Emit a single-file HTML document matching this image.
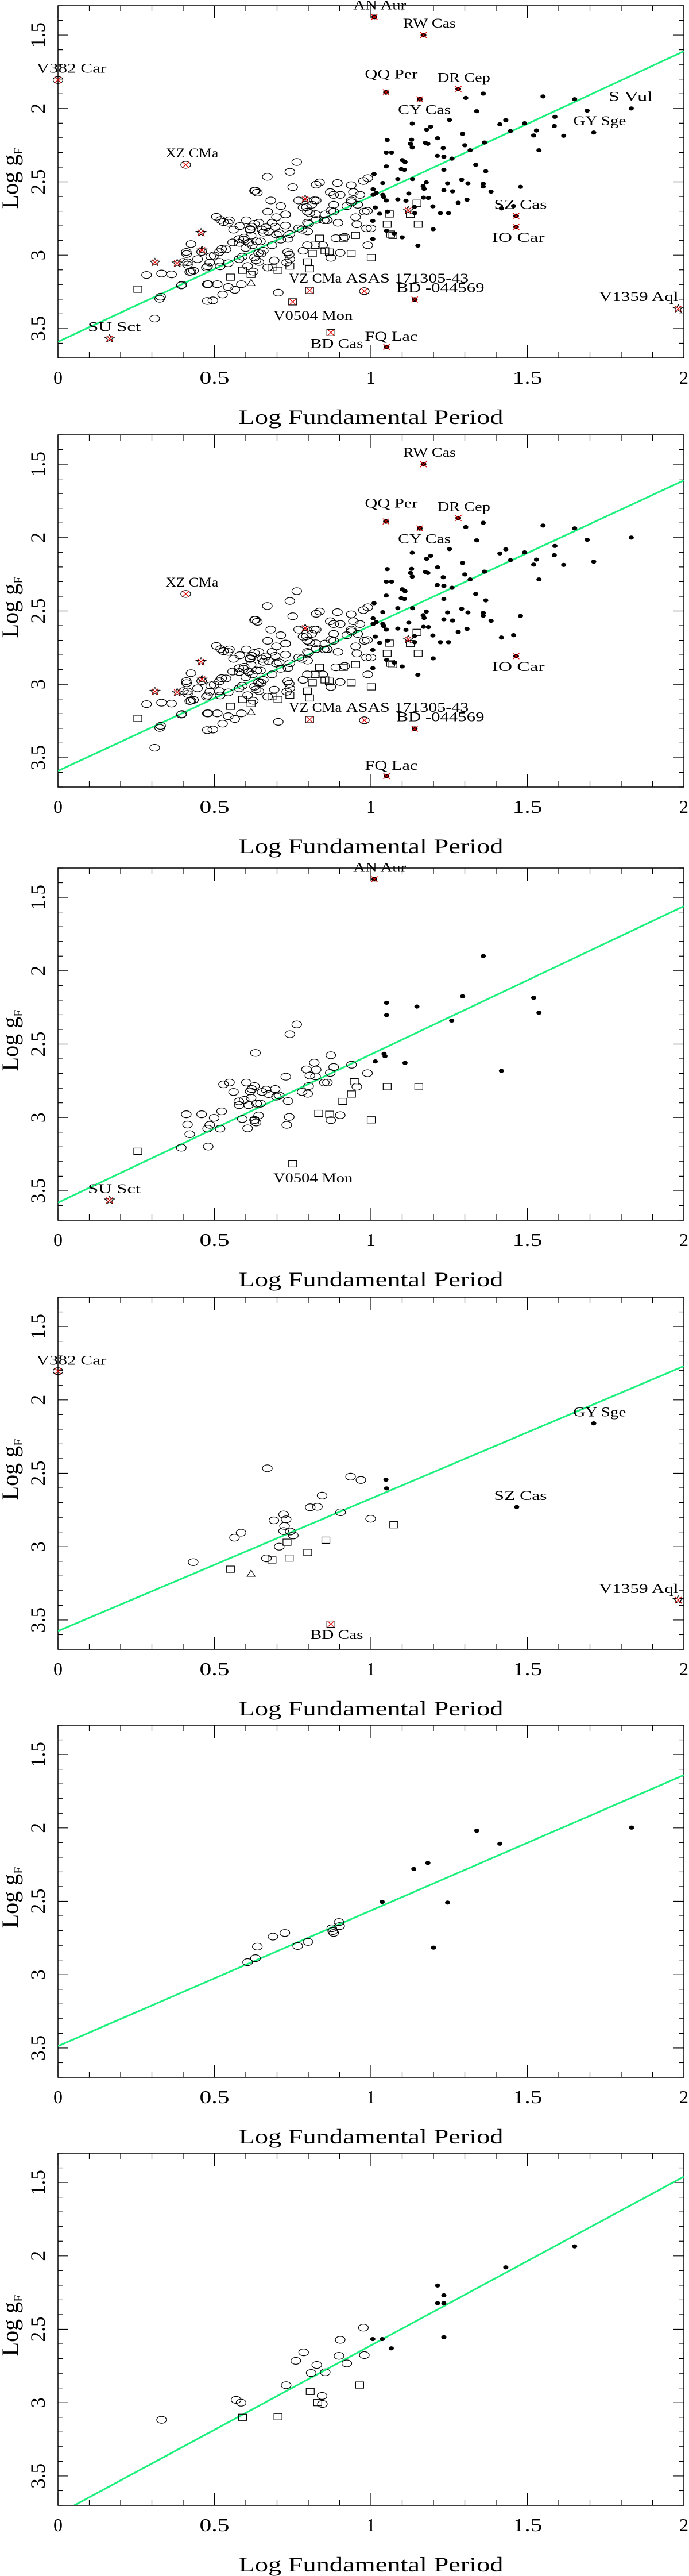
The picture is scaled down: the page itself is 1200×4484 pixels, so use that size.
<!DOCTYPE html>
<html><head><meta charset="utf-8">
<style>
html,body{margin:0;padding:0;background:#fff;}
svg{display:block;}
text{font-family:"Liberation Serif",serif;fill:#000;}
</style></head>
<body>
<svg id="chart" width="1200" height="4484" viewBox="0 0 1200 4484" xmlns="http://www.w3.org/2000/svg"></svg>
<script>
// ---------- DATA ----------
const xTickLabels = ["0","0.5","1","1.5","2"];
const yTickLabels = ["1.5","2","2.5","3","3.5"];
const xTickValues = [0,0.5,1,1.5,2];
const yTickValues = [1.5,2,2.5,3,3.5];

// Panel 1
const p1OpenX = [0.763,0.741,0.669,0.750,0.628,0.637,0.680,0.825,0.836,0.893,0.937,0.976,0.990,0.870,0.902,0.944,0.506,0.520,0.544,0.581,0.614,0.656,0.698,0.727,0.783,0.797,0.811,0.860,0.895,0.951,0.979,0.986,0.916,1.000,0.990,0.425,0.411,0.401,0.414,0.425,0.433,0.283,0.331,0.363,0.396,0.477,0.509,0.477,0.495,0.526,0.544,0.565,0.586,0.624,0.642,0.670,0.704,0.309,0.325,0.328,0.488,0.516,0.537,0.558,0.593,0.621,0.656,0.684,0.712,0.741,0.769,0.797,0.825,0.853,0.881,0.923,0.600,0.649,0.691,0.734,0.783,0.846,0.888,0.516,0.474,0.446,0.684,0.642,0.579,0.544,0.741,0.797,0.825,0.769,0.712,0.670,0.727,0.881,0.937,0.965,0.958,
0.410,0.414,0.421,0.459,0.478,0.480,0.485,0.499,0.518,0.523,0.394,0.529,0.548,0.561,0.579,0.578,0.589,0.595,0.602,0.609,0.606,0.614,0.617,0.619,0.628,0.628,0.633,0.635,0.641,0.647,0.652,0.665,0.673,0.694,0.698,0.707,0.728,0.735,0.739,0.731,0.631,0.780,0.794,0.798,0.801,0.805,0.819,0.823,0.851,0.861,0.872,0.881,0.872,0.902,0.938,0.955,0.989];
const p1OpenY = [2.365,2.432,2.466,2.536,2.561,2.574,2.627,2.519,2.504,2.508,2.523,2.494,2.475,2.570,2.589,2.570,2.738,2.760,2.779,2.802,2.827,2.846,2.741,2.722,2.675,2.703,2.656,2.760,2.779,2.741,2.703,2.817,2.875,2.817,2.932,2.924,2.992,3.046,3.065,3.112,3.106,3.135,3.125,3.131,3.202,3.198,3.198,3.312,3.308,3.268,3.217,3.236,3.198,3.112,3.046,3.084,3.255,3.432,3.297,3.283,3.008,2.979,2.960,2.913,2.894,2.932,2.970,2.932,2.894,2.856,2.817,2.779,2.760,2.722,2.703,2.665,2.951,2.989,3.036,2.979,2.970,2.932,2.884,3.046,3.084,3.027,2.779,2.779,3.027,3.055,3.027,2.932,2.627,2.627,2.665,2.703,2.798,2.589,2.627,2.589,2.656,
2.978,3.048,3.114,2.978,3.076,3.198,3.050,3.002,3.076,2.958,3.206,2.774,2.762,2.826,2.916,2.890,3.010,2.880,2.762,2.916,3.074,2.822,2.866,2.806,2.786,3.016,3.034,2.906,2.986,2.906,2.826,2.810,2.840,2.806,2.858,2.850,2.722,2.888,2.996,3.050,2.560,2.826,2.672,2.838,2.786,2.714,2.626,2.720,2.762,2.762,2.696,2.656,3.018,2.984,2.640,2.790,2.698];
const p1FilledX = [1.359,1.303,1.338,1.550,1.651,1.832,1.251,1.132,1.412,1.431,1.491,1.446,1.191,1.178,1.588,1.586,1.529,1.520,1.293,1.213,1.052,1.130,1.126,1.132,1.174,1.182,1.300,1.363,1.231,1.616,1.691,1.712,1.537,1.317,1.049,1.066,1.212,1.233,1.259,1.100,1.109,1.049,1.097,1.107,1.233,1.335,1.367,1.010,1.133,1.086,1.290,1.310,1.359,1.359,1.384,1.478,1.245,1.177,1.167,1.170,1.233,1.261,1.038,1.007,1.017,1.007,1.038,1.041,1.049,1.121,1.086,1.112,1.168,1.184,1.307,1.279,1.139,1.198,1.222,1.248,1.417,1.456,1.140,1.053,1.028,1.014,1.006,1.050,1.100,1.074,1.006,1.150,1.199];
const p1FilledY = [1.899,1.928,2.019,1.918,1.937,2.000,2.078,2.103,2.108,2.080,2.101,2.154,2.124,2.144,2.057,2.120,2.150,2.184,2.173,2.203,2.215,2.213,2.241,2.266,2.234,2.241,2.251,2.232,2.270,2.186,2.015,2.164,2.285,2.285,2.300,2.300,2.323,2.329,2.342,2.352,2.365,2.395,2.413,2.418,2.418,2.384,2.428,2.447,2.481,2.481,2.485,2.510,2.513,2.532,2.567,2.534,2.510,2.504,2.529,2.548,2.557,2.565,2.508,2.551,2.576,2.589,2.589,2.603,2.627,2.580,2.620,2.629,2.608,2.610,2.622,2.643,2.671,2.667,2.713,2.713,2.681,2.665,2.713,2.703,2.717,2.675,2.766,2.833,2.878,2.852,2.890,2.935,2.823];
const p1SquareX = [0.255,0.551,0.590,0.617,0.684,0.703,0.741,0.797,0.804,0.813,0.822,0.836,0.853,0.867,0.912,0.937,0.951,1.001,1.052,1.063,1.070,1.151,1.059,1.126,1.147];
const p1SquareY = [3.232,3.150,3.103,3.131,3.084,3.103,3.074,3.046,3.093,2.989,2.932,2.884,2.970,2.979,2.884,2.989,2.865,3.017,2.789,2.856,2.865,2.789,2.719,2.722,2.646];
const p1TriX = [0.617];
const p1TriY = [3.188];
const p1SpecX = [1.011,1.168,1.048,1.279,1.156,1.464,1.464,1.140,1.050,0.000,0.408,0.979,0.804,0.750,0.872,0.165,0.310,0.381,0.457,0.460,0.790,1.119,1.982];
const p1SpecY = [1.376,1.500,1.890,1.867,1.937,2.732,2.808,3.302,3.625,1.806,2.384,3.245,3.240,3.318,3.527,3.568,3.049,3.055,2.846,2.966,2.618,2.694,3.365];
const p1SpecKind = ["fx","fx","fx","fx","fx","fx","fx","fx","fx","cx","cx","cx","sx","sx","sx","st","st","st","st","st","st","st","st"];
const p1LabelText = ["AN Aur","RW Cas","V382 Car","QQ Per","DR Cep","S Vul","CY Cas","GY Sge","XZ CMa","SZ Cas","IO Car","VZ CMa","ASAS 171305-43","BD -044569","V1359 Aql","V0504 Mon","SU Sct","FQ Lac","BD Cas"];
const p1LabelX = [1.028,1.187,0.043,1.065,1.297,1.830,1.171,1.731,0.428,1.478,1.471,0.822,1.116,1.222,1.856,0.815,0.180,1.065,0.891];
const p1LabelY = [1.325,1.449,1.757,1.795,1.819,1.947,2.038,2.114,2.333,2.684,2.909,3.188,3.188,3.251,3.312,3.441,3.517,3.582,3.631];
const p1Line = [3.59,1.61];

// Panel 2
const p2OpenX = p1OpenX, p2OpenY = p1OpenY;
const p2FilledX = p1FilledX, p2FilledY = p1FilledY;
const p2SquareX = p1SquareX, p2SquareY = p1SquareY;
const p2TriX = p1TriX, p2TriY = p1TriY;
const p2SpecX = [1.168,1.048,1.279,1.156,1.464,1.140,1.050,0.408,0.979,0.804,0.310,0.381,0.457,0.460,0.790,1.119];
const p2SpecY = [1.500,1.890,1.867,1.937,2.808,3.302,3.625,2.384,3.245,3.240,3.049,3.055,2.846,2.966,2.618,2.694];
const p2SpecKind = ["fx","fx","fx","fx","fx","fx","fx","cx","cx","sx","st","st","st","st","st","st"];
const p2LabelText = ["RW Cas","QQ Per","DR Cep","CY Cas","XZ CMa","IO Car","VZ CMa","ASAS 171305-43","BD -044569","FQ Lac"];
const p2LabelX = [1.187,1.065,1.297,1.171,0.428,1.471,0.822,1.116,1.222,1.065];
const p2LabelY = [1.449,1.795,1.819,2.038,2.333,2.909,3.188,3.188,3.251,3.582];
const p2Line = [3.59,1.61];

// Panel 3
const p3OpenX = [0.410,0.414,0.421,0.459,0.478,0.480,0.485,0.499,0.518,0.523,0.394,0.529,0.548,0.561,0.579,0.578,0.589,0.595,0.602,0.609,0.606,0.614,0.617,0.619,0.628,0.628,0.633,0.635,0.641,0.647,0.652,0.665,0.673,0.694,0.698,0.707,0.728,0.735,0.739,0.731,0.631,0.741,0.763,0.780,0.794,0.798,0.801,0.805,0.819,0.823,0.825,0.851,0.861,0.870,0.872,0.881,0.872,0.902,0.938,0.955,0.989];
const p3OpenY = [2.978,3.048,3.114,2.978,3.076,3.198,3.050,3.002,3.076,2.958,3.206,2.774,2.762,2.826,2.916,2.890,3.010,2.880,2.762,2.916,3.074,2.822,2.866,2.806,2.786,3.016,3.034,2.906,2.986,2.906,2.826,2.810,2.840,2.806,2.858,2.850,2.722,2.888,2.996,3.050,2.560,2.432,2.366,2.826,2.672,2.838,2.786,2.714,2.626,2.720,2.674,2.762,2.762,2.696,2.576,2.656,3.018,2.984,2.640,2.790,2.698];
const p3FilledX = [1.359,1.293,1.520,1.537,1.147,1.050,1.050,1.258,1.042,1.045,1.014,1.109,1.417];
const p3FilledY = [1.900,2.174,2.184,2.286,2.244,2.218,2.302,2.340,2.566,2.582,2.618,2.628,2.682];
const p3SquareX = [0.255,0.628,0.750,0.833,0.868,0.910,0.938,0.947,1.001,1.052,1.153];
const p3SquareY = [3.230,3.022,3.316,2.972,2.978,2.890,2.840,2.756,3.016,2.790,2.790];
const p3TriX = [];
const p3TriY = [];
const p3SpecX = [1.011,0.165];
const p3SpecY = [1.376,3.564];
const p3SpecKind = ["fx","st"];
const p3LabelText = ["AN Aur","V0504 Mon","SU Sct"];
const p3LabelX = [1.028,0.815,0.180];
const p3LabelY = [1.326,3.442,3.516];
const p3Line = [3.58,1.56];

// Panel 4
const p4OpenX = [0.669,0.935,0.968,0.844,0.806,0.829,0.903,0.999,0.690,0.721,0.729,0.724,0.721,0.742,0.752,0.585,0.564,0.707,0.666,0.432];
const p4OpenY = [2.466,2.523,2.546,2.652,2.732,2.728,2.766,2.810,2.821,2.781,2.814,2.859,2.894,2.897,2.924,2.905,2.939,3.000,3.080,3.106];
const p4FilledX = [1.048,1.050,1.712,1.466];
const p4FilledY = [2.544,2.603,2.160,2.730];
const p4SquareX = [1.073,0.856,0.732,0.798,0.739,0.684,0.551];
const p4SquareY = [2.851,2.956,2.970,3.040,3.078,3.091,3.154];
const p4TriX = [0.617];
const p4TriY = [3.183];
const p4SpecX = [0.000,1.982,0.872];
const p4SpecY = [1.804,3.363,3.528];
const p4SpecKind = ["cx","st","sx"];
const p4LabelText = ["V382 Car","GY Sge","SZ Cas","V1359 Aql","BD Cas"];
const p4LabelX = [0.043,1.731,1.478,1.856,0.891];
const p4LabelY = [1.760,2.112,2.683,3.316,3.629];
const p4Line = [3.575,1.77];

// Panel 5
const p5OpenX = [0.606,0.631,0.637,0.687,0.725,0.766,0.799,0.875,0.881,0.878,0.898,0.900];
const p5OpenY = [2.915,2.888,2.809,2.741,2.716,2.805,2.777,2.684,2.716,2.703,2.642,2.669];
const p5FilledX = [1.036,1.137,1.182,1.338,1.412,1.833,1.245,1.200];
const p5FilledY = [2.504,2.280,2.239,2.019,2.108,1.998,2.509,2.816];
const p5SquareX = [];
const p5SquareY = [];
const p5TriX = [];
const p5TriY = [];
const p5SpecX = [];
const p5SpecY = [];
const p5SpecKind = [];
const p5LabelText = [];
const p5LabelX = [];
const p5LabelY = [];
const p5Line = [3.487,1.64];

// Panel 6
const p6OpenX = [0.331,0.569,0.585,0.729,0.760,0.785,0.809,0.827,0.854,0.844,0.845,0.898,0.902,0.923,0.976,0.979];
const p6OpenY = [3.117,2.981,3.000,2.881,2.715,2.657,2.798,2.743,2.793,2.954,3.009,2.681,2.572,2.733,2.489,2.676];
const p6FilledX = [1.006,1.036,1.065,1.213,1.233,1.213,1.233,1.233,1.431,1.651];
const p6FilledY = [2.567,2.567,2.630,2.202,2.269,2.322,2.322,2.554,2.078,1.935];
const p6SquareX = [0.590,0.703,0.806,0.830,0.964];
const p6SquareY = [3.100,3.096,2.924,3.000,2.880];
const p6TriX = [];
const p6TriY = [];
const p6SpecX = [];
const p6SpecY = [];
const p6SpecKind = [];
const p6LabelText = [];
const p6LabelX = [];
const p6LabelY = [];
const p6Line = [3.76,1.46];

// ---------- DRAW ----------
const NS = "http://www.w3.org/2000/svg";
const svg = document.getElementById("chart");
const LEFT = 101, RIGHT = 1191, H = 613;
const TOPS = [10,757,1511,2258,3003,3748];
const YMIN = 1.3, YMAX = 3.7;
function mk(tag, attrs, parent){
  const e = document.createElementNS(NS, tag);
  for (const k in attrs) e.setAttribute(k, attrs[k]);
  parent.appendChild(e);
  return e;
}
function sx(v){ return LEFT + v/2*(RIGHT-LEFT); }
function makeSy(top){ return v => top + (v-YMIN)/(YMAX-YMIN)*H; }

function drawPanel(idx, oX, oY, fX, fY, qX, qY, tX, tY, spX, spY, spK, lT, lX, lY, line){
  const top = TOPS[idx], sy = makeSy(top);
  const g = mk("g", {}, svg);
  
  
  const cp = mk("clipPath", {id:"clip"+idx}, g);
  mk("rect", {x:LEFT, y:top, width:RIGHT-LEFT, height:H}, cp);
  // frame
  const fr = mk("rect", {x:LEFT, y:top, width:RIGHT-LEFT, height:H, fill:"none", stroke:"#000", "stroke-width":1.5}, g);
  
  
  // x ticks
  for (let i=0;i<=20;i++){
    const x = sx(i/10), len = (i%5===0)?22:10;
    const t1 = mk("line", {x1:x, x2:x, y1:top+H, y2:top+H-len, stroke:"#000", "stroke-width":1.2}, g);
    
    
    const t2 = mk("line", {x1:x, x2:x, y1:top, y2:top+len, stroke:"#000", "stroke-width":1.2}, g);
    
    
  }
  for (let i=13;i<=37;i++){
    const y = sy(i/10), len = (i%5===0)?18:9;
    const t1 = mk("line", {x1:LEFT, x2:LEFT+len, y1:y, y2:y, stroke:"#000", "stroke-width":1.2}, g);
    
    
    const t2 = mk("line", {x1:RIGHT, x2:RIGHT-len, y1:y, y2:y, stroke:"#000", "stroke-width":1.2}, g);
    
    
  }
  xTickValues.forEach((v,i)=>{
    const lab = xTickLabels[i];
    const t = mk("text", {x:sx(v), y:top+658, "font-size":32, "text-anchor":"middle", textLength: lab.length>1?52:16, lengthAdjust:"spacingAndGlyphs"}, g);
    t.textContent = lab;
    
    
  });
  yTickValues.forEach((v,i)=>{
    const lab = yTickLabels[i];
    const t = mk("text", {x:0, y:0, "font-size":36, "text-anchor":"middle", textLength: lab.length>1?44:18, lengthAdjust:"spacingAndGlyphs", transform:`translate(78,${sy(v)}) rotate(-90)`}, g);
    t.textContent = lab;
    
    
  });
  const xt = mk("text", {x:646, y:top+728, "font-size":36, "text-anchor":"middle", textLength:461, lengthAdjust:"spacingAndGlyphs"}, g);
  xt.textContent = "Log Fundamental Period";
  
  
  const yt = mk("text", {x:0, y:0, "font-size":40, "text-anchor":"middle", transform:`translate(31,${top+300}) rotate(-90)`}, g);
  yt.innerHTML = 'Log g<tspan font-size="22" dy="8">F</tspan>';
  
  
  // fit line
  const ln = mk("line", {x1:sx(0), y1:sy(line[0]), x2:sx(2), y2:sy(line[1]), stroke:"#1cf07c", "stroke-width":3, "clip-path":`url(#clip${idx})`}, g);
  
  
  // markers
  oX.forEach((v,i)=>{
    const e = mk("ellipse", {cx:sx(v), cy:sy(oY[i]), rx:8.5, ry:6, fill:"none", stroke:"#000", "stroke-width":1.2}, g);
    
    
  });
  qX.forEach((v,i)=>{
    const e = mk("rect", {x:sx(v)-7, y:sy(qY[i])-5.5, width:14, height:11, fill:"none", stroke:"#000", "stroke-width":1.2}, g);
    
    
  });
  tX.forEach((v,i)=>{
    const x = sx(v), y = sy(tY[i]);
    const e = mk("polygon", {points:`${x-7},${y+5} ${x+7},${y+5} ${x},${y-6}`, fill:"none", stroke:"#000", "stroke-width":1.2}, g);
    
    
  });
  fX.forEach((v,i)=>{
    const e = mk("ellipse", {cx:sx(v), cy:sy(fY[i]), rx:4.5, ry:3.6, fill:"#000"}, g);
    
    
  });
  spX.forEach((v,i)=>{
    const x = sx(v), y = sy(spY[i]), k = spK[i];
    const sg = mk("g", {}, g);
    
    
    if (k==="fx") mk("ellipse", {cx:x, cy:y, rx:5, ry:4, fill:"#000"}, sg);
    if (k==="cx") mk("ellipse", {cx:x, cy:y, rx:8.5, ry:6, fill:"none", stroke:"#000", "stroke-width":1.2}, sg);
    if (k==="sx") mk("rect", {x:x-7, y:y-5.5, width:14, height:11, fill:"none", stroke:"#000", "stroke-width":1.2}, sg);
    if (k==="st"){
      let pts=[];
      for (let j=0;j<10;j++){
        const r = j%2===0?9:4, a = -Math.PI/2 + j*Math.PI/5;
        pts.push((x+r*Math.cos(a)).toFixed(1)+","+(y+r*0.8*Math.sin(a)).toFixed(1));
      }
      mk("polygon", {points:pts.join(" "), fill:"none", stroke:"#000", "stroke-width":1.1}, sg);
    }
    mk("line", {x1:x-5.5, y1:y-5, x2:x+5.5, y2:y+5, stroke:"#e00000", "stroke-width":1.3}, sg);
    mk("line", {x1:x-5.5, y1:y+5, x2:x+5.5, y2:y-5, stroke:"#e00000", "stroke-width":1.3}, sg);
  });
  lT.forEach((s,i)=>{
    const t = mk("text", {x:sx(lX[i]), y:sy(lY[i]), "font-size":23, "text-anchor":"middle", textLength:(s.length*15.3).toFixed(0), lengthAdjust:"spacingAndGlyphs"}, g);
    t.textContent = s;
    
    
  });
}

drawPanel(0,p1OpenX,p1OpenY,p1FilledX,p1FilledY,p1SquareX,p1SquareY,p1TriX,p1TriY,p1SpecX,p1SpecY,p1SpecKind,p1LabelText,p1LabelX,p1LabelY,p1Line);
drawPanel(1,p2OpenX,p2OpenY,p2FilledX,p2FilledY,p2SquareX,p2SquareY,p2TriX,p2TriY,p2SpecX,p2SpecY,p2SpecKind,p2LabelText,p2LabelX,p2LabelY,p2Line);
drawPanel(2,p3OpenX,p3OpenY,p3FilledX,p3FilledY,p3SquareX,p3SquareY,p3TriX,p3TriY,p3SpecX,p3SpecY,p3SpecKind,p3LabelText,p3LabelX,p3LabelY,p3Line);
drawPanel(3,p4OpenX,p4OpenY,p4FilledX,p4FilledY,p4SquareX,p4SquareY,p4TriX,p4TriY,p4SpecX,p4SpecY,p4SpecKind,p4LabelText,p4LabelX,p4LabelY,p4Line);
drawPanel(4,p5OpenX,p5OpenY,p5FilledX,p5FilledY,p5SquareX,p5SquareY,p5TriX,p5TriY,p5SpecX,p5SpecY,p5SpecKind,p5LabelText,p5LabelX,p5LabelY,p5Line);
drawPanel(5,p6OpenX,p6OpenY,p6FilledX,p6FilledY,p6SquareX,p6SquareY,p6TriX,p6TriY,p6SpecX,p6SpecY,p6SpecKind,p6LabelText,p6LabelX,p6LabelY,p6Line);
</script>
</body></html>
